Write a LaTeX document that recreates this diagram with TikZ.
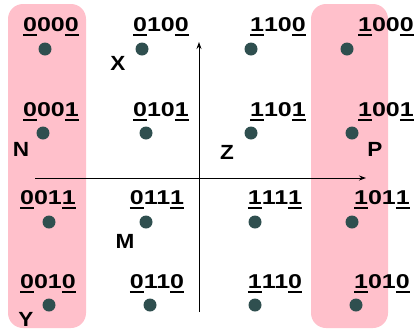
\documentclass[tikz,border=0pt]{standalone}
\usepackage{fontspec}
\setmainfont{Liberation Sans}
\usetikzlibrary{arrows.meta}
\definecolor{pinkbg}{RGB}{255,192,203}
\definecolor{dotc}{RGB}{47,79,79}
\newsavebox\ulbox
\newcommand\ulx[1]{\sbox\ulbox{#1}\rlap{\rule[-4.5pt]{\wd\ulbox}{1.6pt}}\usebox\ulbox}
\newcommand\cw[4]{\scalebox{1.25}[1]{\ulx{#1}#2#3\ulx{#4}}}
\newcommand\lw[1]{\scalebox{1.1}[1]{#1}}
\tikzset{
  band/.style={fill=pinkbg, rounded corners=15pt},
  dot/.style={circle, fill=dotc, minimum size=13pt, inner sep=0pt},
  codelab/.style={font=\bfseries\fontsize{20}{20}\selectfont, anchor=base, inner sep=0pt},
  letter/.style={font=\bfseries\fontsize{20.5}{20.5}\selectfont, anchor=base, inner sep=0pt},
  axis/.style={-{Stealth[length=7pt,width=5pt]}, line width=0.9pt}
}
\begin{document}
\begin{tikzpicture}[x=1pt,y=-1pt]
\useasboundingbox (0,0) rectangle (418,330);
\path[band] (8,4) rectangle (86,328);
\path[band] (311,4) rectangle (388,328);
% axes
\coordinate (xl) at (35,178);
\coordinate (xr) at (366,178);
\coordinate (yb) at (199,312);
\coordinate (yt) at (199,42);
\draw[axis] (xl) -- (xr);
\draw[axis] (yb) -- (yt);
% row 1
\node[dot] (d0000) at (45,49) {};
\node[dot] (d0100) at (142,49) {};
\node[dot] (d1100) at (251,49) {};
\node[dot] (d1000) at (347,49) {};
\node[codelab] (l0000) at (51,31) {\cw{0}{0}{0}{0}};
\node[codelab] (l0100) at (161,31) {\cw{0}{1}{0}{0}};
\node[codelab] (l1100) at (278,31) {\cw{1}{1}{0}{0}};
\node[codelab] (l1000) at (386,31) {\cw{1}{0}{0}{0}};
% row 2
\node[dot] (d0001) at (43,133) {};
\node[dot] (d0101) at (146,133) {};
\node[dot] (d1101) at (251,133) {};
\node[dot] (d1001) at (352,133) {};
\node[codelab] (l0001) at (51,116) {\cw{0}{0}{0}{1}};
\node[codelab] (l0101) at (161,116) {\cw{0}{1}{0}{1}};
\node[codelab] (l1101) at (278,116) {\cw{1}{1}{0}{1}};
\node[codelab] (l1001) at (386,116) {\cw{1}{0}{0}{1}};
% row 3
\node[dot] (d0011) at (49,222) {};
\node[dot] (d0111) at (146,222) {};
\node[dot] (d1111) at (255,222) {};
\node[dot] (d1011) at (352,222) {};
\node[codelab] (l0011) at (48,204) {\cw{0}{0}{1}{1}};
\node[codelab] (l0111) at (157,204) {\cw{0}{1}{1}{1}};
\node[codelab] (l1111) at (275,204) {\cw{1}{1}{1}{1}};
\node[codelab] (l1011) at (382,204) {\cw{1}{0}{1}{1}};
% row 4
\node[dot] (d0010) at (49,305) {};
\node[dot] (d0110) at (150,305) {};
\node[dot] (d1110) at (255,305) {};
\node[dot] (d1010) at (356,305) {};
\node[codelab] (l0010) at (48,288) {\cw{0}{0}{1}{0}};
\node[codelab] (l0110) at (157,288) {\cw{0}{1}{1}{0}};
\node[codelab] (l1110) at (275,288) {\cw{1}{1}{1}{0}};
\node[codelab] (l1010) at (382,288) {\cw{1}{0}{1}{0}};
% letters
\node[letter] (X) at (118,70) {\lw{X}};
\node[letter] (N) at (21,156) {\lw{N}};
\node[letter] (Z) at (227,159) {\lw{Z}};
\node[letter] (P) at (375,156) {\lw{P}};
\node[letter] (M) at (125,248) {\lw{M}};
\node[letter] (Y) at (26,326) {\lw{Y}};
\end{tikzpicture}
\end{document}
